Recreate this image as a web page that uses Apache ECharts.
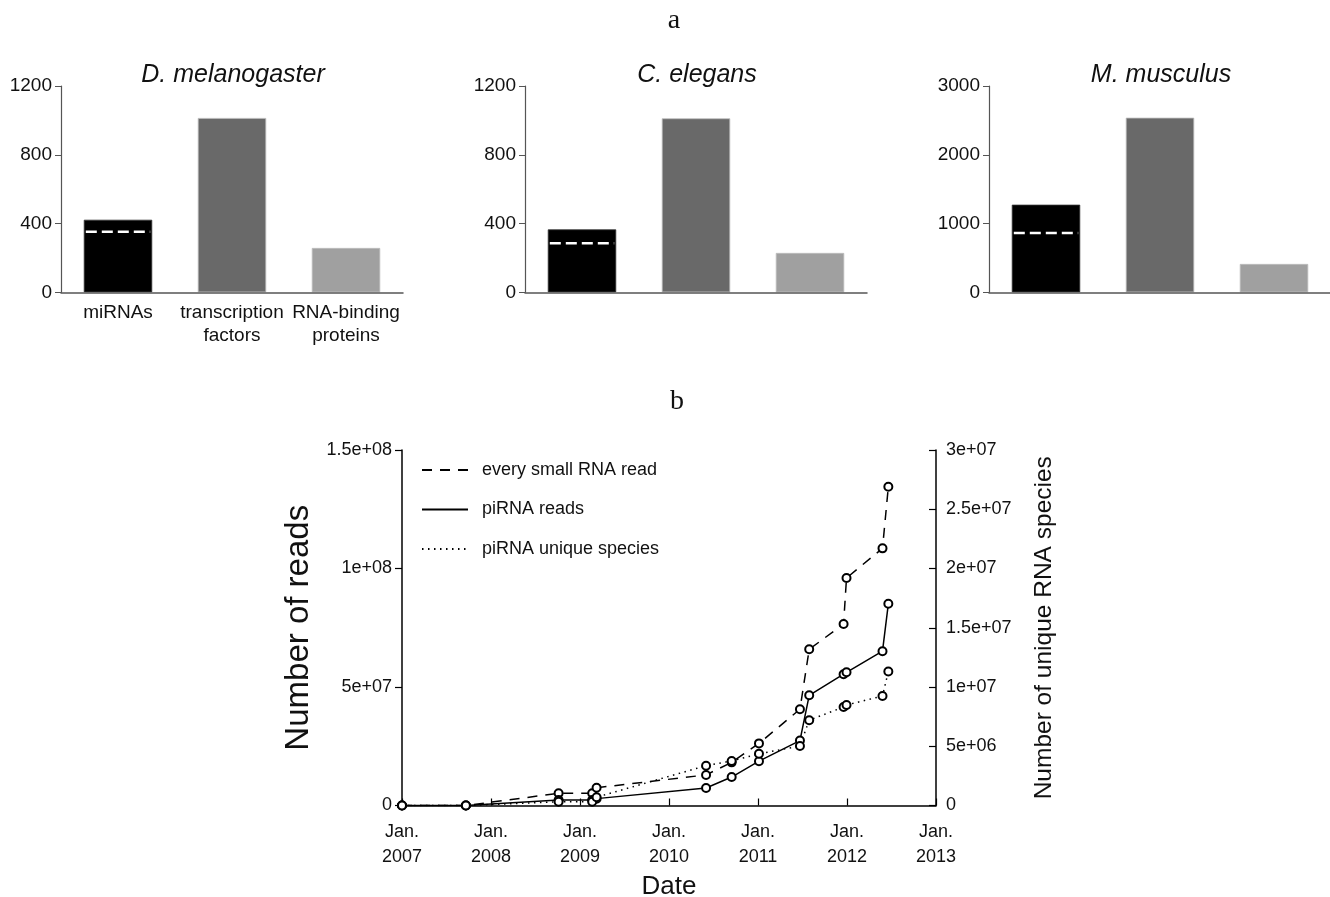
<!DOCTYPE html>
<html>
<head>
<meta charset="utf-8">
<script src="https://cdn.jsdelivr.net/npm/echarts@6/dist/echarts.min.js"></script>
<style>html,body{margin:0;padding:0;background:#fff}#c{width:1330px;height:897px}</style>
</head>
<body>
<div id="c"></div>
<script>
// ---------- Panel a data ----------
const barCategories = ['miRNAs', 'transcription\nfactors', 'RNA-binding\nproteins'];
const speciesNames = ['D. melanogaster', 'C. elegans', 'M. musculus'];
const droValues = [422, 1014, 258];
const celValues = [366, 1012, 229];
const mmuValues = [1274, 2539, 412];
const miRNADashed = [352, 285, 862];
const barYMax = [1200, 1200, 3000];
const barYInterval = [400, 400, 1000];
const barColors = ['#000000', '#696969', '#a0a0a0'];

// ---------- Panel b data ----------
const dates = ['2007-01-01','2007-09-20','2008-10-05','2009-02-20','2009-03-10','2010-06-02','2010-09-15','2011-01-05','2011-06-22','2011-07-30','2011-12-18','2011-12-30','2012-05-26','2012-06-19'];
const everySmallRNAReads = [0, 0, 5.15e6, 5.15e6, 7.5e6, 1.29e7, 1.82e7, 2.62e7, 4.06e7, 6.59e7, 7.66e7, 9.6e7, 1.085e8, 1.345e8];
const piRNAReads = [0, 0, 2.3e6, 2.3e6, 2.9e6, 7.4e6, 1.2e7, 1.87e7, 2.74e7, 4.65e7, 5.54e7, 5.62e7, 6.51e7, 8.51e7];
const piRNAUniqueSpecies = [0, 0, 3.2e5, 3.2e5, 7.0e5, 3.36e6, 3.76e6, 4.36e6, 5.02e6, 7.2e6, 8.31e6, 8.48e6, 9.24e6, 1.131e7];
const xTickYears = [2007, 2008, 2009, 2010, 2011, 2012, 2013];
const xTickLabels = ['Jan.\n2007','Jan.\n2008','Jan.\n2009','Jan.\n2010','Jan.\n2011','Jan.\n2012','Jan.\n2013'];
const leftTicks = [0, 5e7, 1e8, 1.5e8];
const leftTickLabels = ['0', '5e+07', '1e+08', '1.5e+08'];
const rightTicks = [0, 5e6, 1e7, 1.5e7, 2e7, 2.5e7, 3e7];
const rightTickLabels = ['0', '5e+06', '1e+07', '1.5e+07', '2e+07', '2.5e+07', '3e+07'];

function toYear(s) {
  const d = new Date(s + 'T00:00:00Z');
  const y = d.getUTCFullYear();
  const start = Date.UTC(y, 0, 1), end = Date.UTC(y + 1, 0, 1);
  return y + (d.getTime() - start) / (end - start);
}
const xYears = dates.map(toYear);
const pairs = vals => xYears.map((x, i) => [x, vals[i]]);
function lookup(ticks, labels) {
  return v => { const i = ticks.findIndex(t => Math.abs(t - v) < 1e-6 * Math.max(1, Math.abs(t))); return i >= 0 ? labels[i] : ''; };
}

const FONT = 'Liberation Sans';
const chart = echarts.init(document.getElementById('c'));

const barGridLefts = [61, 525, 989];
const grids = [], xAxes = [], yAxes = [], series = [], titles = [];
const allBarValues = [droValues, celValues, mmuValues];

titles.push({ text: 'a', left: 669, top: 2, textAlign: 'center', textStyle: { fontFamily: 'Liberation Serif', fontSize: 28, fontWeight: 'normal', color: '#111' } });
titles.push({ text: 'b', left: 672, top: 383, textAlign: 'center', textStyle: { fontFamily: 'Liberation Serif', fontSize: 28, fontWeight: 'normal', color: '#111' } });

for (let g = 0; g < 3; g++) {
  grids.push({ left: barGridLefts[g], top: 86, width: 342, height: 206.3, containLabel: false, outerBoundsMode: 'none' });
  titles.push({ text: speciesNames[g], left: barGridLefts[g] + 167, top: 58, textAlign: 'center',
    textStyle: { fontFamily: FONT, fontSize: 25, fontStyle: 'italic', fontWeight: 'normal', color: '#111' } });
  xAxes.push({ type: 'category', gridIndex: g, data: barCategories, z: 5,
    axisLine: { lineStyle: { color: '#555', width: 1.5 } },
    axisTick: { alignWithLabel: true, inside: true, length: 6, lineStyle: { color: '#222', width: 1.5 } },
    axisLabel: { show: g === 0, fontFamily: FONT, fontSize: 19, color: '#111', lineHeight: 23, margin: 9, interval: 0 } });
  yAxes.push({ type: 'value', gridIndex: g, min: 0, max: barYMax[g], interval: barYInterval[g],
    splitLine: { show: false },
    axisLine: { show: true, lineStyle: { color: '#555', width: 1.2 } },
    axisTick: { show: true, length: 6, lineStyle: { color: '#555' } },
    axisLabel: { fontFamily: FONT, fontSize: 19, color: '#111', margin: 9, formatter: v => String(v) } });
  series.push({ type: 'bar', xAxisIndex: g, yAxisIndex: g, barWidth: '60%',
    data: allBarValues[g].map((v, i) => ({ value: v, itemStyle: { color: barColors[i], borderColor: i === 0 ? '#333' : '#bbb', borderWidth: 0.8 } })),
    silent: true });
  series.push({ type: 'custom', xAxisIndex: g, yAxisIndex: g, z: 10, silent: true,
    data: [[0, miRNADashed[g]]],
    renderItem: (params, api) => {
      const c = api.coord([api.value(0), api.value(1)]);
      const w = api.size([1, 0])[0] * 0.6;
      return { type: 'line', shape: { x1: c[0] - w / 2 + 2, y1: c[1], x2: c[0] + w / 2 - 2, y2: c[1] },
        style: { stroke: '#ffffff', lineWidth: 2.5, lineDash: [11, 5] } };
    } });
}

// Panel b
grids.push({ left: 402, top: 450, width: 534, height: 355.5, containLabel: false, outerBoundsMode: 'none' });
xAxes.push({ type: 'value', gridIndex: 3, min: 2007, max: 2013, interval: 1,
  name: 'Date', nameLocation: 'middle', nameGap: 68,
  nameTextStyle: { fontFamily: FONT, fontSize: 26, color: '#111' },
  splitLine: { show: false },
  axisLine: { lineStyle: { color: '#000', width: 1.5 } },
  axisTick: { inside: true, length: 7, lineStyle: { color: '#000', width: 1.2 } },
  axisLabel: { fontFamily: FONT, fontSize: 18, color: '#111', lineHeight: 25, margin: 14,
    formatter: lookup(xTickYears, xTickLabels) } });
yAxes.push({ type: 'value', gridIndex: 3, position: 'left', min: 0, max: 1.5e8, interval: 5e7,
  name: 'Number of reads', nameLocation: 'middle', nameGap: 87, nameRotate: 90,
  nameTextStyle: { fontFamily: FONT, fontSize: 33, color: '#111' },
  splitLine: { show: false },
  axisLine: { show: true, lineStyle: { color: '#000', width: 1.5 } },
  axisTick: { show: true, length: 7, lineStyle: { color: '#000', width: 1.2 } },
  axisLabel: { fontFamily: FONT, fontSize: 18, color: '#111', margin: 10, formatter: lookup(leftTicks, leftTickLabels) } });
yAxes.push({ type: 'value', gridIndex: 3, position: 'right', min: 0, max: 3e7, interval: 5e6,
  name: 'Number of unique RNA species', nameLocation: 'middle', nameGap: 96, nameRotate: 90,
  nameTextStyle: { fontFamily: FONT, fontSize: 24.5, color: '#111' },
  splitLine: { show: false },
  axisLine: { show: true, lineStyle: { color: '#000', width: 1.5 } },
  axisTick: { show: true, inside: true, length: 7, lineStyle: { color: '#000', width: 1.2 } },
  axisLabel: { fontFamily: FONT, fontSize: 18, color: '#111', margin: 10, formatter: lookup(rightTicks, rightTickLabels) } });

const lineCommon = { type: 'line', xAxisIndex: 3, symbol: 'emptyCircle', symbolSize: 8, silent: true,
  itemStyle: { color: '#000', borderColor: '#000', borderWidth: 1.2 } };
series.push(Object.assign({}, lineCommon, { name: 'every small RNA read', yAxisIndex: 3, data: pairs(everySmallRNAReads),
  lineStyle: { color: '#000', width: 1.5, type: [10, 8] } }));
series.push(Object.assign({}, lineCommon, { name: 'piRNA reads', yAxisIndex: 3, data: pairs(piRNAReads),
  lineStyle: { color: '#000', width: 1.5, type: 'solid' } }));
series.push(Object.assign({}, lineCommon, { name: 'piRNA unique species', yAxisIndex: 4, data: pairs(piRNAUniqueSpecies),
  lineStyle: { color: '#000', width: 1.5, type: [1.5, 4.5] } }));

chart.setOption({
  animation: false,
  backgroundColor: '#fff',
  title: titles,
  legend: { left: 416, top: 456, orient: 'vertical', itemWidth: 46, itemHeight: 20, itemGap: 21.5,
    data: ['every small RNA read', 'piRNA reads', 'piRNA unique species'],
    itemStyle: { opacity: 0 },
    textStyle: { fontFamily: FONT, fontSize: 18, color: '#111', padding: [0, 0, 0, 9] } },
  grid: grids, xAxis: xAxes, yAxis: yAxes, series: series
});
</script>
</body>
</html>
